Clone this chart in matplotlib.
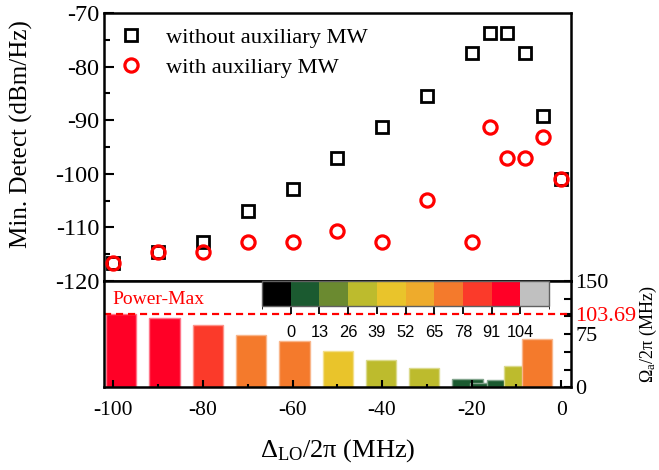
import numpy as np
import matplotlib
matplotlib.use("Agg")
import matplotlib.pyplot as plt
from matplotlib.colors import ListedColormap, BoundaryNorm
from matplotlib.cm import ScalarMappable
from matplotlib.ticker import MultipleLocator, FixedLocator

plt.rcParams['font.family'] = ['Liberation Serif', 'DejaVu Serif']
plt.rcParams['mathtext.fontset'] = 'custom'
plt.rcParams['mathtext.rm'] = 'Liberation Serif'
plt.rcParams['mathtext.it'] = 'Liberation Serif:italic'
plt.rcParams['axes.unicode_minus'] = False

# detuning of the local oscillator (MHz)
delta_lo = [-100, -90, -80, -70, -60, -50, -40, -30, -20, -16, -12, -8, -4, 0]
# minimum detectable power (dBm/Hz)
without_mw = [-116.6, -114.6, -112.8, -106.9, -102.9, -97.1, -91.2, -85.4,
              -77.5, -73.7, -73.7, -77.5, -89.2, -101.0]
with_mw = [-116.6, -114.6, -114.6, -112.7, -112.7, -110.7, -112.7, -104.9,
           -112.7, -91.2, -97.1, -97.1, -93.1, -101.0]

# optimal auxiliary Rabi frequency Omega_a/2pi (MHz)
bar_delta = [-100, -90, -80, -70, -60, -50, -40, -30, -20, -16, -12, -8, -4]
omega_a = [103.69, 97.7, 87.4, 73.3, 66.0, 51.6, 38.5, 27.0, 11.7, 6.5, 10.3, 30.0, 68.0]
power_max = 103.69

cb_bounds = [-13, 0, 13, 26, 39, 52, 65, 78, 91, 104, 117]
cb_ticks = [0, 13, 26, 39, 52, 65, 78, 91, 104]
cb_colors = ['#000000', '#1b5a30', '#6b8a30', '#bdbb2d', '#e9c42b',
             '#eeab2c', '#f47a2c', '#fb3a2a', '#ff0026', '#c0c0c0']

W, H = 659, 470
fig = plt.figure(figsize=(W / 100, H / 100), dpi=100)

def rect(x0, y0, x1, y1):
    return [x0 / W, 1 - y1 / H, (x1 - x0) / W, (y1 - y0) / H]

# ---------------- upper panel
ax = fig.add_axes(rect(104, 13, 571, 281))
ax.plot(delta_lo, without_mw, 's', ms=9, mfc='none', mec='k', mew=2,
        label='without auxiliary MW', zorder=3)
ax.plot(delta_lo, with_mw, 'o', ms=9.5, mfc='none', mec='#ff0000', mew=2.3,
        label='with auxiliary MW', zorder=4)
ax.set_xlim(-102.1, 2.2)
ax.set_ylim(-120, -70)
ax.yaxis.set_major_locator(MultipleLocator(10))
ax.yaxis.set_minor_locator(MultipleLocator(5))
ax.tick_params(axis='y', which='both', direction='in', labelsize=17.5, width=1.5)
ax.tick_params(axis='y', which='major', length=7)
ax.tick_params(axis='y', which='minor', length=4.5)
ax.tick_params(axis='x', which='both', bottom=False, labelbottom=False)
for s in ax.spines.values():
    s.set_linewidth(1.8)
ax.set_ylabel('Min. Detect (dBm/Hz)', fontsize=18)
ax.yaxis.set_label_coords(-0.152, 0.55)
ax.legend(loc='upper left', frameon=False, fontsize=16.2, handletextpad=0.75,
          handlelength=1.6, labelspacing=0.42, borderaxespad=0.0,
          bbox_to_anchor=(0.0, 0.98))

# ---------------- lower panel: bars
cmap = ListedColormap(cb_colors)
norm = BoundaryNorm(cb_bounds, cmap.N)

bot_rect = rect(104, 281, 571, 387.3)
axb = fig.add_axes(bot_rect, zorder=1)
face = cmap(norm(omega_a))
edge = [tuple(0.55 * np.array(c[:3]) + 0.45) for c in face]
axb.bar(bar_delta, omega_a, width=7.0, color=face, edgecolor=edge, linewidth=1.0)
axb.set_xlim(-104.0, 3.9)
axb.set_ylim(0, 150)
axb.xaxis.set_visible(False)
for s in axb.spines.values():
    s.set_visible(False)
axb.yaxis.tick_right()
axb.yaxis.set_label_position('right')
axb.yaxis.set_major_locator(FixedLocator([0, 75, power_max, 150]))
axb.yaxis.set_minor_locator(FixedLocator([25, 50, 100, 125]))
axb.set_yticklabels(['0', '75', '%.2f' % power_max, '150'])
axb.get_yticklabels()[2].set_color('#ff0000')
axb.tick_params(axis='y', which='both', direction='in', labelsize=16, width=1.5,
                length=5, pad=3)
axb.set_ylabel(r'$\Omega_{\mathrm{a}}/2\mathrm{\pi}$ (MHz)', fontsize=13, labelpad=1)

# ---------------- lower panel: frame, x axis, power-max line
ax2 = fig.add_axes(bot_rect, zorder=2)
ax2.patch.set_alpha(0)
ax2.set_xlim(-102.1, 2.2)
ax2.set_ylim(0, 150)
ax2.axhline(power_max, color='#ff0000', lw=1.6, ls=(0, (3.2, 2.2)))
ax2.text(-100.2, 117, 'Power-Max', color='#ff0000', fontsize=14, va='baseline')
ax2.xaxis.set_major_locator(MultipleLocator(20))
ax2.xaxis.set_minor_locator(MultipleLocator(10))
ax2.tick_params(axis='x', which='both', direction='in', labelsize=15.5, width=1.5)
ax2.tick_params(axis='x', which='major', length=5, pad=10)
ax2.tick_params(axis='x', which='minor', length=2.5)
ax2.tick_params(axis='y', which='both', left=False, labelleft=False)
for s in ax2.spines.values():
    s.set_linewidth(1.8)
ax2.set_xlabel(r'$\Delta_{\mathrm{LO}}/2\mathrm{\pi}$ (MHz)', fontsize=19, labelpad=12)

# ---------------- colour scale
cax = fig.add_axes(rect(262, 281, 549, 306), zorder=3)
cb = fig.colorbar(ScalarMappable(norm=norm, cmap=cmap), cax=cax,
                  orientation='horizontal', ticks=cb_ticks)
cb.outline.set_linewidth(1.0)
cb.outline.set_edgecolor('#606060')
cax.tick_params(axis='x', direction='out', length=5.5, width=1.3, pad=8,
                labelsize=11.8)
for lab in cax.get_xticklabels():
    lab.set_family(['Liberation Sans', 'DejaVu Sans'])

fig.savefig('out.png', dpi=100)
